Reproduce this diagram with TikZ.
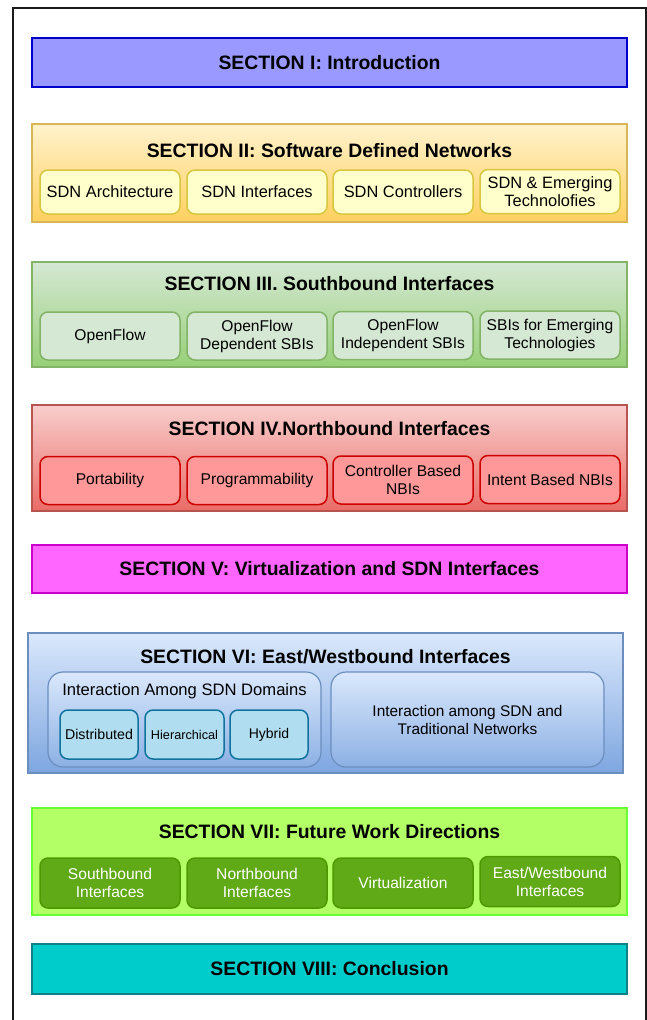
\documentclass[tikz,border=0pt]{standalone}
\usepackage{fontspec}
\setmainfont{Liberation Sans}
\usetikzlibrary{positioning}
\definecolor{frameC}{HTML}{1A1A1A}
\definecolor{s1fill}{HTML}{9999FF}\definecolor{s1line}{HTML}{0000CC}
\definecolor{s2top}{HTML}{FFF2CC}\definecolor{s2bot}{HTML}{FFD05E}\definecolor{s2line}{HTML}{D6B656}
\definecolor{s2sfill}{HTML}{FFFFCC}\definecolor{s2sline}{HTML}{D6C640}
\definecolor{s3top}{HTML}{D5E8D4}\definecolor{s3bot}{HTML}{97D077}\definecolor{s3line}{HTML}{82B366}
\definecolor{s3sfill}{HTML}{D5E8D4}\definecolor{s3sline}{HTML}{82B366}
\definecolor{s4top}{HTML}{F8CECC}\definecolor{s4bot}{HTML}{EA6B66}\definecolor{s4line}{HTML}{B85450}
\definecolor{s4sfill}{HTML}{FF9999}\definecolor{s4sline}{HTML}{CC0000}
\definecolor{s5fill}{HTML}{FF66FF}\definecolor{s5line}{HTML}{CC00CC}
\definecolor{s6top}{HTML}{DAE8FC}\definecolor{s6bot}{HTML}{7EA6E0}\definecolor{s6line}{HTML}{6C8EBF}
\definecolor{s6sfill}{HTML}{B1DDF0}\definecolor{s6sline}{HTML}{10739E}
\definecolor{s7fill}{HTML}{B3FF66}\definecolor{s7line}{HTML}{66FF33}
\definecolor{s7sfill}{HTML}{60A917}\definecolor{s7sline}{HTML}{4D9900}
\definecolor{s8fill}{HTML}{00CCCC}\definecolor{s8line}{HTML}{0E8088}
\tikzset{
  secbox/.style={draw, line width=1.5pt, minimum width=595pt, inner sep=0pt},
  sectitle/.style={font=\fontsize{19.4}{23}\selectfont\bfseries, inner sep=0pt},
  subbox/.style={draw, line width=1.5pt, rounded corners=8pt, minimum width=140pt,
    inner sep=0pt, align=center, font=\fontsize{15.6}{18}\selectfont},
  subboxB/.style={subbox, font=\fontsize{16.4}{18}\selectfont},
  smallbox/.style={draw, line width=1.5pt, rounded corners=8pt, minimum height=49pt,
    inner sep=0pt, align=center, fill=s6sfill, draw=s6sline},
  groupbox/.style={draw=s6line, line width=1.2pt, rounded corners=15pt, minimum width=273pt,
    minimum height=95pt, inner sep=0pt, top color=s6top, bottom color=s6bot!85!s6top},
}
\begin{document}
\begin{tikzpicture}[x=1pt,y=-1pt]
\useasboundingbox (0,0) rectangle (647,1020);
\fill[white] (0,0) rectangle (647,1020);
% outer frame
\draw[frameC, line width=2pt] (12.5,1020) -- (12.5,8) -- (645.5,8) -- (645.5,1020);

% Section I
\node[secbox, minimum height=49pt, fill=s1fill, draw=s1line, line width=2pt,
  font=\fontsize{19.4}{23}\selectfont\bfseries] (s1) at (329.5,62.5) {SECTION I: Introduction};

% Section II
\node[secbox, minimum height=98pt, top color=s2top, bottom color=s2bot, draw=s2line] (s2) at (329.5,173) {};
\node[sectitle] (t2) at (329.5,150.5) {SECTION II: Software Defined Networks};
\node[subboxB, minimum height=44pt, fill=s2sfill, draw=s2sline] (s2a) at (110,192) {SDN Architecture};
\node[subboxB, minimum height=44pt, fill=s2sfill, draw=s2sline] (s2b) at (257,192) {SDN Interfaces};
\node[subboxB, minimum height=44pt, fill=s2sfill, draw=s2sline] (s2c) at (403,192) {SDN Controllers};
\node[subboxB, minimum height=44pt, fill=s2sfill, draw=s2sline] (s2d) at (550,191.5) {SDN \& Emerging\\Technolofies};

% Section III
\node[secbox, minimum height=105pt, top color=s3top, bottom color=s3bot, draw=s3line] (s3) at (329.5,314.5) {};
\node[sectitle] (t3) at (329.5,283.5) {SECTION III. Southbound Interfaces};
\node[subbox, minimum height=48pt, fill=s3sfill, draw=s3sline] (s3a) at (110,336) {OpenFlow};
\node[subbox, minimum height=48pt, fill=s3sfill, draw=s3sline] (s3b) at (257,336) {OpenFlow\\Dependent SBIs};
\node[subbox, minimum height=48pt, fill=s3sfill, draw=s3sline] (s3c) at (403,335.5) {OpenFlow\\Independent SBIs};
\node[subbox, minimum height=48pt, fill=s3sfill, draw=s3sline] (s3d) at (550,335) {SBIs for Emerging\\Technologies};

% Section IV
\node[secbox, minimum height=106pt, top color=s4top, bottom color=s4bot, draw=s4line] (s4) at (329.5,458) {};
\node[sectitle] (t4) at (329.5,428.5) {SECTION IV.Northbound Interfaces};
\node[subbox, minimum height=48pt, fill=s4sfill, draw=s4sline] (s4a) at (110,480.5) {Portability};
\node[subbox, minimum height=48pt, fill=s4sfill, draw=s4sline] (s4b) at (257,480.5) {Programmability};
\node[subbox, minimum height=48pt, fill=s4sfill, draw=s4sline] (s4c) at (403,480) {Controller Based\\NBIs};
\node[subbox, minimum height=48pt, fill=s4sfill, draw=s4sline] (s4d) at (550,479.5) {Intent Based NBIs};

% Section V
\node[secbox, minimum height=48pt, fill=s5fill, draw=s5line,
  font=\fontsize{19.4}{23}\selectfont\bfseries] (s5) at (329.5,569) {SECTION V: Virtualization and SDN Interfaces};

% Section VI
\node[secbox, minimum height=140pt, top color=s6top, bottom color=s6bot, draw=s6line] (s6) at (325.5,703) {};
\node[sectitle] (t6) at (325.5,656.5) {SECTION VI: East/Westbound Interfaces};
\node[groupbox] (g1) at (184.5,719.5) {};
\node[inner sep=0pt, font=\fontsize{16.6}{19}\selectfont] (g1t) at (184.5,691) {Interaction Among SDN Domains};
\node[smallbox, minimum width=78pt, font=\fontsize{14.2}{17}\selectfont] (d1) at (99,734.5) {Distributed};
\node[smallbox, minimum width=79pt, font=\fontsize{12.7}{15}\selectfont] (d2) at (184.5,734.5) {Hierarchical};
\node[smallbox, minimum width=78pt, font=\fontsize{14}{17}\selectfont] (d3) at (269,734.5) {Hybrid};
\node[groupbox, align=center, font=\fontsize{15.4}{18}\selectfont] (g2) at (467.5,719.5) {Interaction among SDN and\\Traditional Networks};

% Section VII
\node[secbox, minimum height=107pt, fill=s7fill, draw=s7line] (s7) at (329.5,861.5) {};
\node[sectitle] (t7) at (329.5,831.5) {SECTION VII: Future Work Directions};
\node[subbox, minimum height=50pt, fill=s7sfill, draw=s7sline, text=white] (s7a) at (110,883) {Southbound\\Interfaces};
\node[subbox, minimum height=50pt, fill=s7sfill, draw=s7sline, text=white] (s7b) at (257,883) {Northbound\\Interfaces};
\node[subbox, minimum height=50pt, fill=s7sfill, draw=s7sline, text=white] (s7c) at (403,883) {Virtualization};
\node[subbox, minimum height=50pt, fill=s7sfill, draw=s7sline, text=white] (s7d) at (550,881.5) {East/Westbound\\Interfaces};

% Section VIII
\node[secbox, minimum height=50pt, fill=s8fill, draw=s8line,
  font=\fontsize{19.4}{23}\selectfont\bfseries] (s8) at (329.5,969) {SECTION VIII: Conclusion};
\end{tikzpicture}
\end{document}
